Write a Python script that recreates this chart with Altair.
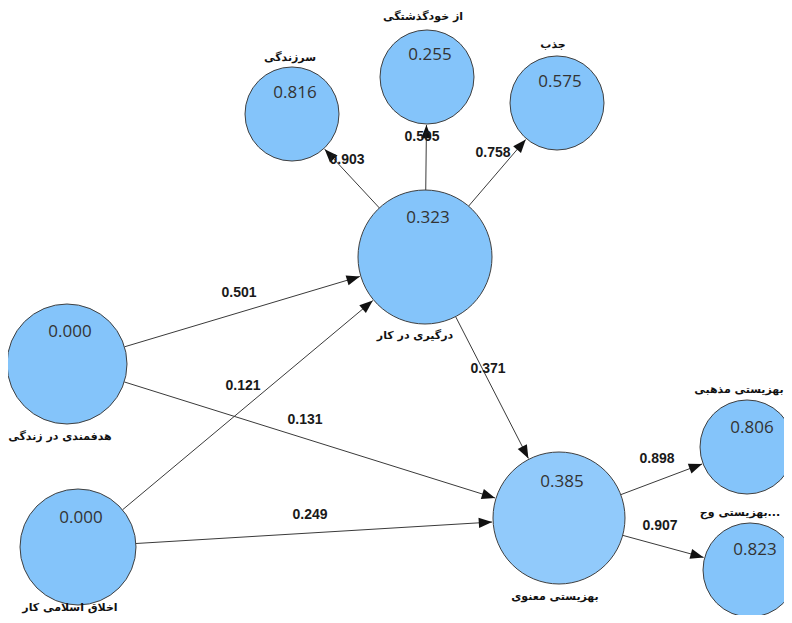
import altair as alt
import pandas as pd
import numpy as np

# ---- data ----
names = ["سرزندگی", "از خودگذشتگی", "جذب", "درگیری در کار", "هدفمندی در زندگی",
         "اخلاق اسلامی کار", "بهزیستی معنوی", "بهزیستی مذهبی", "بهزیستی وج..."]
r2_values = ["0.816", "0.255", "0.575", "0.323", "0.000", "0.000", "0.385", "0.806", "0.823"]

edge_from = [3, 3, 3, 4, 5, 4, 5, 3, 6, 6]
edge_to = [0, 1, 2, 3, 3, 6, 6, 6, 7, 8]
edge_coef = ["0.903", "0.505", "0.758", "0.501", "0.121", "0.131", "0.249", "0.371", "0.898", "0.907"]

# ---- layout (diagram positions, in page pixels) ----
node_x = [292, 427, 557, 425, 67, 78, 559, 747, 750]
node_y = [114, 77, 103, 257, 364, 547, 518, 447, 570]
node_r = [47, 47, 47, 67, 60, 58, 66, 47, 47]
value_x = [295, 430, 560, 428, 70, 81, 562, 752, 755]
value_y = [93, 55, 82, 218, 332, 518, 482, 428, 550]
label_x = [290, 423, 553, 415, 60, 70, 555, 739, 740]
label_y = [58, 17, 45, 336, 437, 608, 597, 390, 513]
coef_x = [347, 422, 493, 239, 243, 305, 310, 488, 657, 660]
coef_y = [160, 137, 153, 293, 386, 420, 515, 369, 459, 526]

nodes = pd.DataFrame({"name": names, "value": r2_values, "x": node_x, "y": node_y,
                      "size": [(2 * r) ** 2 for r in node_r]})
values_df = pd.DataFrame({"value": r2_values, "x": value_x, "y": value_y})
labels_df = pd.DataFrame({"name": names, "x": label_x, "y": label_y})
coef_df = pd.DataFrame({"coef": edge_coef, "x": coef_x, "y": coef_y})

rows = []
for f, t in zip(edge_from, edge_to):
    x0, y0, r0 = node_x[f], node_y[f], node_r[f]
    x1, y1, r1 = node_x[t], node_y[t], node_r[t]
    dx, dy = x1 - x0, y1 - y0
    L = np.hypot(dx, dy)
    ux, uy = dx / L, dy / L
    sx, sy = x0 + ux * r0, y0 + uy * r0
    ex, ey = x1 - ux * (r1 + 1), y1 - uy * (r1 + 1)
    ang = (np.degrees(np.arctan2(ux, -uy)) + 360) % 360
    rows.append({"x": sx, "y": sy, "x2": ex, "y2": ey, "tx": ex, "ty": ey, "angle": ang})
edges = pd.DataFrame(rows)

xs = alt.Scale(domain=[8, 784], nice=False, zero=False)
ys = alt.Scale(domain=[8, 615], nice=False, zero=False, reverse=True)

lines = alt.Chart(edges).mark_rule(color="#3a3a3a", strokeWidth=1).encode(
    x=alt.X("x:Q", scale=xs, axis=None), y=alt.Y("y:Q", scale=ys, axis=None),
    x2="x2:Q", y2="y2:Q")

heads = alt.Chart(edges).mark_point(
    shape="M0,0L-0.5,1.3L0.5,1.3Z", filled=True, color="#111111", opacity=1, size=420
).encode(
    x=alt.X("tx:Q", scale=xs, axis=None), y=alt.Y("ty:Q", scale=ys, axis=None),
    angle=alt.Angle("angle:Q", scale=None))

circles = alt.Chart(nodes).mark_circle(
    opacity=1, stroke="#404040", strokeWidth=1
).encode(
    x=alt.X("x:Q", scale=xs, axis=None), y=alt.Y("y:Q", scale=ys, axis=None),
    size=alt.Size("size:Q", scale=None, legend=None),
    color=alt.condition(alt.datum.name == "بهزیستی معنوی",
                        alt.value("#91CAFB"), alt.value("#84C4FA")))

vals = alt.Chart(values_df).mark_text(
    font="Open Sans", fontSize=17, color="#333333", baseline="middle", align="center"
).encode(x=alt.X("x:Q", scale=xs, axis=None), y=alt.Y("y:Q", scale=ys, axis=None), text="value:N")

labs = alt.Chart(labels_df).mark_text(
    font="DejaVu Sans", fontSize=11, fontWeight="bold", color="#111111", baseline="middle", align="center"
).encode(x=alt.X("x:Q", scale=xs, axis=None), y=alt.Y("y:Q", scale=ys, axis=None), text="name:N")

coefs = alt.Chart(coef_df).mark_text(
    font="Liberation Sans", fontSize=14, fontWeight="bold", color="#1a1a1a", baseline="middle", align="center"
).encode(x=alt.X("x:Q", scale=xs, axis=None), y=alt.Y("y:Q", scale=ys, axis=None), text="coef:N")

chart = alt.layer(lines, circles, heads, vals, labs, coefs).properties(
    width=776, height=607, autosize=alt.AutoSizeParams(type="none"), padding=0,
    background="white"
).configure_view(stroke=None)

chart.save("out.html", embed_options={"renderer": "svg", "actions": False})
